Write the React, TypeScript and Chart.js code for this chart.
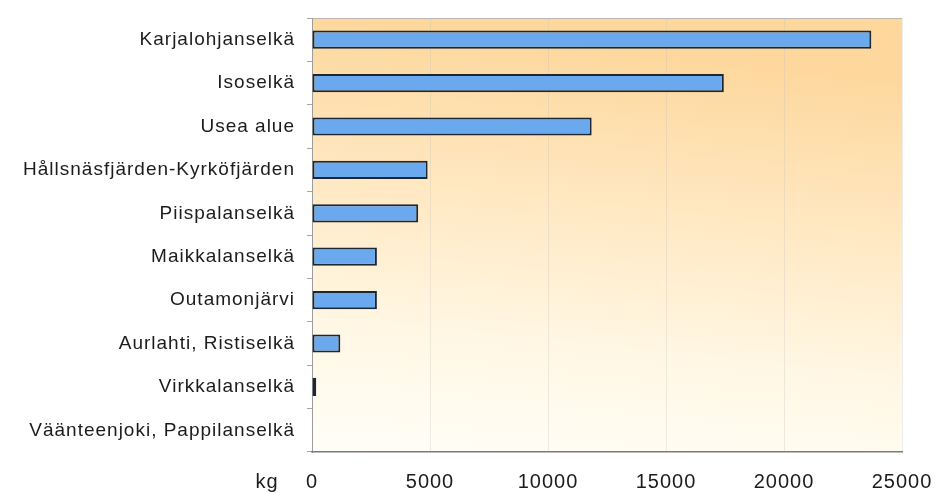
import { useEffect, useRef } from 'react';
import { Chart, registerables } from 'chart.js';

Chart.register(...registerables);

// Catch per fishing area, kilograms
const areas = [
  'Karjalohjanselkä',
  'Isoselkä',
  'Usea alue',
  'Hållsnäsfjärden-Kyrköfjärden',
  'Piispalanselkä',
  'Maikkalanselkä',
  'Outamonjärvi',
  'Aurlahti, Ristiselkä',
  'Virkkalanselkä',
  'Väänteenjoki, Pappilanselkä',
];
const catchKg = [23700, 17450, 11850, 4900, 4500, 2750, 2750, 1200, 180, 0];
const axisMax = 25000;
const axisStep = 5000;
const unitLabel = 'kg';

const FONT = '"Liberation Sans", Arial, Helvetica, sans-serif';

// Warm wash behind the bars, a faint top frame line and the unit label.
const plotDecor = {
  id: 'plotDecor',
  beforeDraw(chart: any) {
    const { ctx, chartArea: a } = chart;
    ctx.save();
    const g = ctx.createLinearGradient(a.left, a.bottom, a.left + 45, a.top);
    g.addColorStop(0, '#fffef8');
    g.addColorStop(0.3, '#fff7e4');
    g.addColorStop(0.65, '#ffe7c0');
    g.addColorStop(1, '#fdd79c');
    ctx.fillStyle = g;
    ctx.fillRect(a.left, a.top, a.right - a.left, a.bottom - a.top);
    ctx.strokeStyle = '#bdb6ae';
    ctx.lineWidth = 1;
    ctx.beginPath();
    ctx.moveTo(a.left, a.top + 0.5);
    ctx.lineTo(a.right, a.top + 0.5);
    ctx.stroke();
    ctx.restore();
    ctx.letterSpacing = '1px';
  },
  afterDraw(chart: any) {
    const { ctx, chartArea: a } = chart;
    ctx.save();
    ctx.font = `20px ${FONT}`;
    ctx.fillStyle = '#1c1c1c';
    ctx.textAlign = 'center';
    ctx.textBaseline = 'middle';
    ctx.fillText(unitLabel, a.left - 45, a.bottom + 30);
    ctx.restore();
  },
};

export default function App() {
  const canvasRef = useRef<HTMLCanvasElement | null>(null);

  useEffect(() => {
    document.body.style.margin = '0';
    const canvas = canvasRef.current;
    if (!canvas) return;
    const chart = new Chart(canvas, {
      type: 'bar',
      data: {
        labels: areas,
        datasets: [
          {
            data: catchKg,
            backgroundColor: '#6aa9ee',
            borderColor: '#1d2633',
            borderWidth: 2,
            borderSkipped: false,
            categoryPercentage: 1,
            barPercentage: 0.42,
          },
        ],
      },
      options: {
        indexAxis: 'y',
        responsive: false,
        animation: false,
        devicePixelRatio: 1,
        layout: { padding: { top: 18, right: 34, left: 0, bottom: 0 } },
        plugins: {
          legend: { display: false },
          tooltip: { enabled: false },
        },
        scales: {
          y: {
            afterFit(scale: any) {
              scale.width = 312;
              scale.paddingTop = 0;
              scale.paddingBottom = 0;
            },
            grid: {
              offset: true,
              drawOnChartArea: false,
              tickLength: 5,
              color: '#a8a8a8',
            },
            border: { color: '#9c9c9c', width: 1 },
            ticks: {
              padding: 12,
              color: '#1c1c1c',
              font: { family: FONT, size: 19 },
            },
          },
          x: {
            min: 0,
            max: axisMax,
            afterFit(scale: any) {
              scale.height = 41;
              scale.paddingLeft = 0;
              scale.paddingRight = 0;
            },
            grid: {
              drawTicks: false,
              color: 'rgba(190,190,190,0.28)',
            },
            border: { color: '#7a7a7a', width: 1.5 },
            ticks: {
              stepSize: axisStep,
              padding: 18,
              color: '#1c1c1c',
              font: { family: FONT, size: 20 },
              callback: (v: any) => String(v),
            },
          },
        },
      },
      plugins: [plotDecor],
    });
    return () => chart.destroy();
  }, []);

  return (
    <div style={{ position: 'absolute', left: 0, top: 0, width: 936, height: 493, background: '#fff' }}>
      <canvas ref={canvasRef} width={936} height={493} />
    </div>
  );
}
